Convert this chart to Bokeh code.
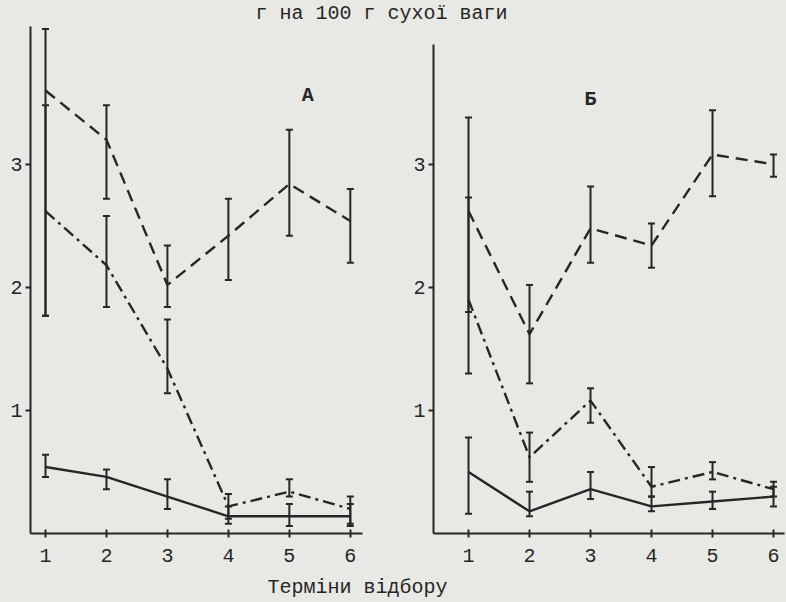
from bokeh.plotting import figure
from bokeh.layouts import column, row
from bokeh.models import ColumnDataSource, Whisker, TeeHead, FixedTicker, Label
from bokeh.embed import file_html
from bokeh.resources import INLINE

# ---- data ----
terms = [1, 2, 3, 4, 5, 6]
y_ticks = [1, 2, 3]

A_dash = [3.6, 3.2, 2.02, 2.42, 2.84, 2.54]
A_dash_hi = [4.1, 3.48, 2.34, 2.72, 3.28, 2.8]
A_dash_lo = [1.77, 2.72, 1.84, 2.06, 2.42, 2.2]
A_dashdot = [2.62, 2.18, 1.34, 0.22, 0.34, 0.2]
A_dashdot_hi = [3.48, 2.58, 1.74, 0.32, 0.44, 0.3]
A_dashdot_lo = [1.77, 1.84, 1.14, 0.12, 0.3, 0.08]
A_solid = [0.54, 0.46, 0.3, 0.14, 0.14, 0.14]
A_solid_hi = [0.64, 0.52, 0.44, 0.22, 0.24, 0.24]
A_solid_lo = [0.46, 0.36, 0.2, 0.08, 0.06, 0.06]

B_dash = [2.62, 1.62, 2.48, 2.34, 3.08, 3.0]
B_dash_hi = [3.38, 2.02, 2.82, 2.52, 3.44, 3.08]
B_dash_lo = [1.8, 1.22, 2.2, 2.16, 2.74, 2.9]
B_dashdot = [1.9, 0.62, 1.08, 0.38, 0.5, 0.36]
B_dashdot_hi = [2.73, 0.82, 1.18, 0.54, 0.58, 0.42]
B_dashdot_lo = [1.3, 0.42, 0.9, 0.3, 0.44, 0.3]
B_solid = [0.5, 0.18, 0.36, 0.22, 0.26, 0.3]
B_solid_hi = [0.78, 0.34, 0.5, 0.3, 0.34, 0.38]
B_solid_lo = [0.16, 0.14, 0.28, 0.18, 0.2, 0.22]

title_text = "г на 100 г сухої ваги"
xlabel_text = "Терміни  відбору"

# ---- styles ----
INK = "#262626"
PAPER = "#e8e9e5"
FONT = "Liberation Mono"
LW = 2.4
DASH = "12 7"
DASHDOT = "12 5 3 5"


def blank(p):
    p.background_fill_color = None
    p.border_fill_color = None
    p.outline_line_color = None
    p.grid.visible = False


def style(p):
    blank(p)
    for ax in (p.xaxis, p.yaxis):
        ax.axis_line_color = INK
        ax.axis_line_width = 2
        ax.major_tick_line_color = INK
        ax.major_tick_line_width = 2
        ax.minor_tick_line_color = None
        ax.major_label_text_font = FONT
        ax.major_label_text_font_size = "20px"
        ax.major_label_text_color = INK
    p.xaxis.ticker = FixedTicker(ticks=terms)
    p.yaxis.ticker = FixedTicker(ticks=y_ticks)
    p.xaxis.major_tick_in = 4
    p.xaxis.major_tick_out = 4
    p.xaxis.major_label_standoff = 11
    p.yaxis.major_tick_in = 0
    p.yaxis.major_tick_out = 5
    p.yaxis.major_label_standoff = 3


def series(p, y, hi, lo, dash):
    src = ColumnDataSource(dict(x=terms, y=y, hi=hi, lo=lo))
    p.line("x", "y", source=src, line_color=INK, line_width=LW, line_dash=dash)
    w = Whisker(source=src, base="x", upper="hi", lower="lo",
                line_color=INK, line_width=2,
                upper_head=TeeHead(size=7, line_color=INK, line_width=2),
                lower_head=TeeHead(size=7, line_color=INK, line_width=2))
    p.add_layout(w)


Y_RANGE = (0, 4.12)

pA = figure(width=395, height=546, x_range=(0.754, 6.2), y_range=Y_RANGE,
            title=None, output_backend="svg", toolbar_location=None,
            min_border_left=30, min_border_right=33,
            min_border_top=0, min_border_bottom=39)
style(pA)
series(pA, A_dash, A_dash_hi, A_dash_lo, DASH)
series(pA, A_dashdot, A_dashdot_hi, A_dashdot_lo, DASHDOT)
series(pA, A_solid, A_solid_hi, A_solid_lo, "solid")
pA.add_layout(Label(x=5.3, y=3.56, text="А", text_font=FONT, text_font_size="20px",
                    text_font_style="bold", text_color=INK, text_align="center",
                    text_baseline="middle"))

pB = figure(width=391, height=546, x_range=(0.426, 6.18), y_range=Y_RANGE,
            title=None, output_backend="svg", toolbar_location=None,
            min_border_left=38, min_border_right=2,
            min_border_top=0, min_border_bottom=39)
style(pB)
pB.yaxis.bounds = (0, 3.97)
series(pB, B_dash, B_dash_hi, B_dash_lo, DASH)
series(pB, B_dashdot, B_dashdot_hi, B_dashdot_lo, DASHDOT)
series(pB, B_solid, B_solid_hi, B_solid_lo, "solid")
pB.add_layout(Label(x=3.0, y=3.53, text="Б", text_font=FONT, text_font_size="20px",
                    text_font_style="bold", text_color=INK, text_align="center",
                    text_baseline="middle"))


def text_strip(h, txt, x, size):
    f = figure(width=786, height=h, x_range=(0, 786), y_range=(0, h),
               title=None, output_backend="svg", toolbar_location=None,
               min_border=0)
    f.axis.visible = False
    blank(f)
    f.add_layout(Label(x=x, y=h / 2, text=txt, text_font=FONT, text_font_size=size,
                       text_color=INK, text_align="left", text_baseline="middle"))
    return f


top = text_strip(26, title_text, 255, "20px")
bottom = text_strip(30, xlabel_text, 267, "20px")

layout = column(top, row(pA, pB), bottom, styles={"background-color": PAPER})

open("out.html", "w").write(file_html(layout, INLINE))
